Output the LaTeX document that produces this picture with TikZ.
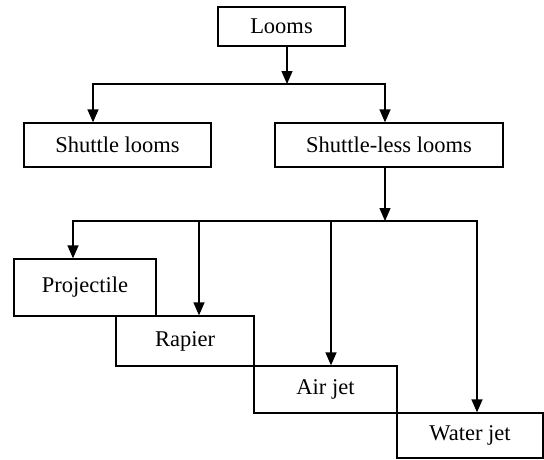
\documentclass[tikz,border=0pt]{standalone}
\usepackage{fontspec}
\setmainfont{Liberation Serif}
\usetikzlibrary{arrows.meta}
\begin{document}
\begin{tikzpicture}[x=1pt,y=-1pt,
  box/.style={draw, line width=1.3pt, inner sep=0pt, font=\fontsize{22.5}{26}\selectfont},
  arr/.style={line width=1.3pt, -{Triangle[width=11pt,length=13pt]}},
  plain/.style={line width=1.3pt}]
\useasboundingbox (0,0) rectangle (544,459);
\fill[white] (0,0) rectangle (544,459);
\node[box, minimum width=127pt, minimum height=39pt] (looms) at (281.5,26.5) {Looms};
\node[box, minimum width=187pt, minimum height=44pt] (sh) at (117.5,145) {Shuttle looms};
\node[box, minimum width=228pt, minimum height=44pt] (sl) at (389,145) {Shuttle-less looms};
\node[box, minimum width=142pt, minimum height=57pt] (proj) at (85,287.5) {Projectile};
\node[box, minimum width=138pt, minimum height=50pt] (rap) at (185,341) {Rapier};
\node[box, minimum width=143pt, minimum height=47pt] (air) at (325.5,389.5) {Air jet};
\node[box, minimum width=146pt, minimum height=45pt] (wat) at (470,435.5) {Water jet};
\coordinate (j1) at (287,84);
\coordinate (j2) at (385,221);
\draw[arr] (looms.south -| j1) -- (j1);
\draw[arr] (j1) -| ([xshift=-24.5pt]sh.north);
\draw[arr] (j1) -| ([xshift=-4pt]sl.north);
\draw[arr] (sl.south -| j2) -- (j2);
\draw[arr] (j2) -| ([xshift=-12pt]proj.north);
\draw[arr] (j2) -| ([xshift=14pt]rap.north);
\draw[arr] (j2) -| ([xshift=5.5pt]air.north);
\draw[arr] (j2) -| ([xshift=7pt]wat.north);
\end{tikzpicture}
\end{document}
